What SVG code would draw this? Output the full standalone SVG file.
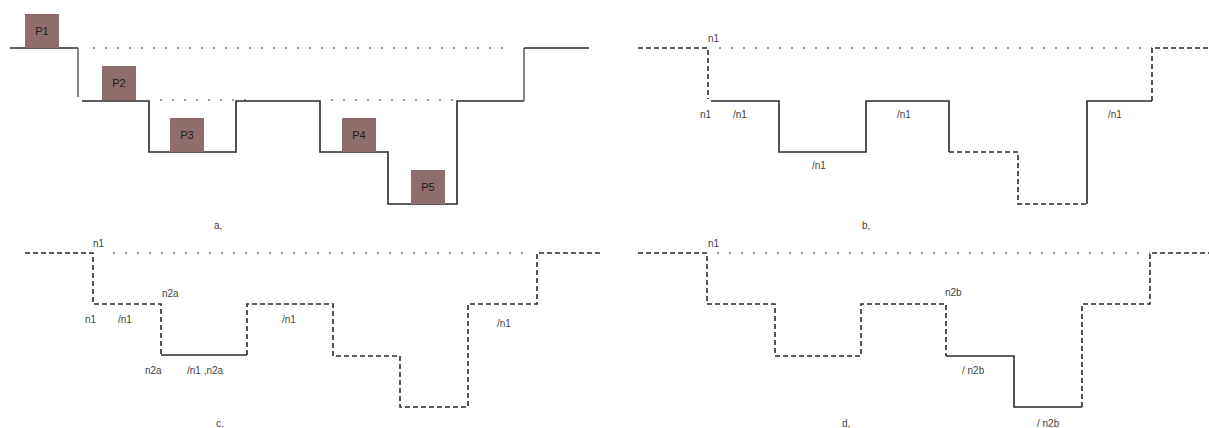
<svg xmlns="http://www.w3.org/2000/svg" width="1209" height="428" viewBox="0 0 1209 428">
<style>
.s{fill:none;stroke:#2a2a2a;stroke-width:1.6}
.sg{fill:none;stroke:#666;stroke-width:1.6}
.d{fill:none;stroke:#2a2a2a;stroke-width:1.6;stroke-dasharray:5,3}
.o{fill:none;stroke:#777;stroke-width:1.4;stroke-dasharray:2,10}
.t{font-family:"Liberation Sans",Arial,sans-serif;font-size:10px;fill:#444}
.p{fill:#8e6d6c}
.pt{font-family:"Liberation Sans",Arial,sans-serif;font-size:11px;fill:#222;text-anchor:middle}
</style>
<rect width="1209" height="428" fill="#fff"/>
<g id="connectors">
<!-- panel a -->
<path class="o" d="M93,48H513"/>
<path class="o" d="M160,100H247M331,100H463"/>
<path class="s" d="M10,48H78"/>
<path class="sg" d="M78,48V97"/>
<path class="s" d="M82,101H149V152H236V101H320V152H388V204H457V101H524"/>
<path class="sg" d="M524,101V48"/>
<path class="s" d="M524,48H589"/>
<!-- panel b -->
<path class="o" d="M719,48H1152"/>
<path class="d" d="M638,48H708V99"/>
<path class="s" d="M711,101H779V152H866V101H949V152"/>
<path class="d" d="M949,152H1018V204H1087"/>
<path class="s" d="M1087,204V101H1152"/>
<path class="d" d="M1152,101V48H1209"/>
<!-- panel c -->
<path class="o" d="M113,253H533"/>
<path class="d" d="M25,253H93V304H161V355"/>
<path class="s" d="M161,355H247"/>
<path class="d" d="M247,355V304H333V356H400V407H468V304H537V253H600"/>
<!-- panel d -->
<path class="o" d="M717,253H1150"/>
<path class="d" d="M638,253H707V304H775V356H861V304H946V356"/>
<path class="s" d="M946,356H1014V407H1082"/>
<path class="d" d="M1082,407V304H1150V253H1209"/>
</g>
<g id="P1"><rect class="p" x="25" y="14" width="34" height="34"/><text class="pt" x="42" y="35">P1</text></g>
<g id="P2"><rect class="p" x="102" y="66" width="34" height="34"/><text class="pt" x="119" y="87">P2</text></g>
<g id="P3"><rect class="p" x="170" y="118" width="34" height="34"/><text class="pt" x="187" y="139">P3</text></g>
<g id="P4"><rect class="p" x="342" y="118" width="34" height="34"/><text class="pt" x="359" y="139">P4</text></g>
<g id="P5"><rect class="p" x="411" y="170" width="34" height="34"/><text class="pt" x="428" y="191">P5</text></g>
<g id="labels">
<text class="t" x="214" y="229">a,</text>
<text class="t" x="708" y="42">n1</text>
<text class="t" x="700" y="118">n1</text>
<text class="t" x="733" y="118">/n1</text>
<text class="t" x="897" y="118">/n1</text>
<text class="t" x="1108" y="118">/n1</text>
<text class="t" x="812" y="169">/n1</text>
<text class="t" x="862" y="229">b,</text>
<text class="t" x="93" y="247">n1</text>
<text class="t" x="162" y="297">n2a</text>
<text class="t" x="85" y="323">n1</text>
<text class="t" x="118" y="323">/n1</text>
<text class="t" x="282" y="323">/n1</text>
<text class="t" x="497" y="327">/n1</text>
<text class="t" x="145" y="374">n2a</text>
<text class="t" x="187" y="374">/n1 ,n2a</text>
<text class="t" x="216" y="427">c,</text>
<text class="t" x="708" y="247">n1</text>
<text class="t" x="945" y="296">n2b</text>
<text class="t" x="962" y="374">/ n2b</text>
<text class="t" x="1037" y="427">/ n2b</text>
<text class="t" x="842" y="427">d,</text>
</g>
</svg>
